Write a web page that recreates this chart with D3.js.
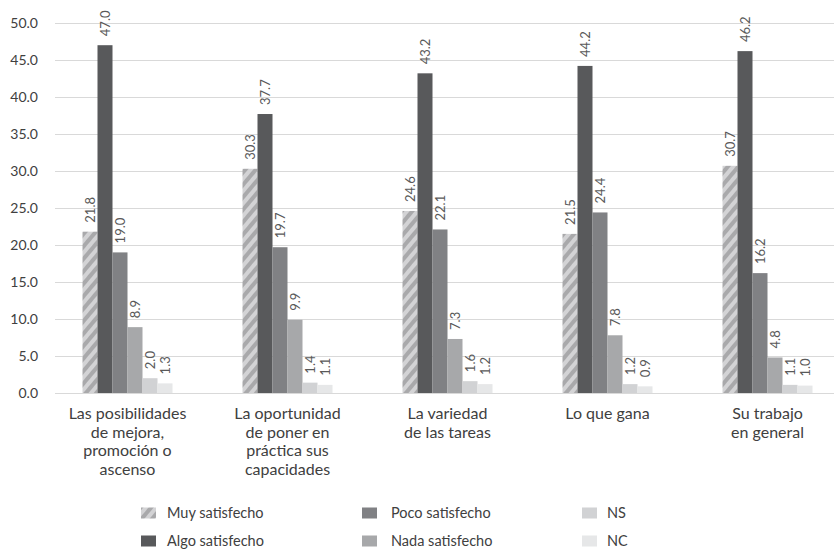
<!DOCTYPE html>
<html><head><meta charset="utf-8">
<script src="https://cdn.jsdelivr.net/npm/d3@7"></script>
<style>html,body{margin:0;padding:0;background:#fff;}svg{display:block;font-family:Lato,"Noto Sans",sans-serif;}</style>
</head><body><svg id="c" width="834" height="550"></svg>
<script>
const categories = [
  ["Las posibilidades","de mejora,","promoción o","ascenso"],
  ["La oportunidad","de poner en","práctica sus","capacidades"],
  ["La variedad","de las tareas"],
  ["Lo que gana"],
  ["Su trabajo","en general"]
];
const seriesNames = ["Muy satisfecho","Algo satisfecho","Poco satisfecho","Nada satisfecho","NS","NC"];
const muy  = [21.8, 30.3, 24.6, 21.5, 30.7];
const algo = [47.0, 37.7, 43.2, 44.2, 46.2];
const poco = [19.0, 19.7, 22.1, 24.4, 16.2];
const nada = [8.9, 9.9, 7.3, 7.8, 4.8];
const ns   = [2.0, 1.4, 1.6, 1.2, 1.1];
const nc   = [1.3, 1.1, 1.2, 0.9, 1.0];
const yTicks = [0,5,10,15,20,25,30,35,40,45,50];

const seriesVals = [muy, algo, poco, nada, ns, nc];
const colors = ["url(#hatch)","#58595b","#808184","#a7a8aa","#d1d2d4","#e6e7e8"];

const svg = d3.select("#c");
const defs = svg.append("defs");
const pat = defs.append("pattern").attr("id","hatch").attr("patternUnits","userSpaceOnUse")
  .attr("width",8).attr("height",8).attr("patternTransform","rotate(40)");
pat.append("rect").attr("width",8).attr("height",8).attr("fill","#d3d3d5");
pat.append("rect").attr("width",4).attr("height",8).attr("fill","#a9a9ab");

const y = d3.scaleLinear().domain([0,50]).range([393,23]);
const x0 = d3.scaleBand().domain(d3.range(categories.length)).range([47.5,847.5]).paddingInner(0).paddingOuter(0);
const x1 = d3.scaleBand().domain(d3.range(seriesNames.length)).range([35,125]);

// gridlines
svg.append("g").selectAll("line").data(yTicks).join("line")
  .attr("x1",55).attr("x2",834).attr("y1",d=>y(d)+0.5).attr("y2",d=>y(d)+0.5)
  .attr("stroke","#d9d9d9").attr("stroke-width",1);

// y labels
svg.append("g").selectAll("text").data(yTicks).join("text")
  .attr("x",38).attr("y",d=>y(d)).attr("dy","0.36em").attr("text-anchor","end")
  .attr("font-size",14).attr("fill","#404040").text(d=>d.toFixed(1));

// bars
const groups = svg.append("g").selectAll("g").data(categories).join("g")
  .attr("transform",(d,i)=>`translate(${x0(i)},0)`);
groups.each(function(c,i){
  const g = d3.select(this);
  seriesVals.forEach((vals,s)=>{
    const v = vals[i];
    g.append("rect").attr("x",x1(s)).attr("width",x1.bandwidth())
      .attr("y",y(v)).attr("height",y(0)-y(v)).attr("fill",colors[s]);
    const cx = x1(s)+x1.bandwidth()/2;
    g.append("text").attr("transform",`translate(${cx},${y(v)-9}) rotate(-90)`)
      .attr("dy","0.36em").attr("text-anchor","start").attr("font-size",13)
      .attr("fill","#595959").text(v.toFixed(1));
  });
  const t = g.append("text").attr("text-anchor","middle").attr("font-size",16).attr("fill","#404040");
  c.forEach((line,k)=>{
    t.append("tspan").attr("x",80).attr("y",419+k*18.5).text(line);
  });
});

// legend
const legCols = [[141,167],[362,391],[582,607]];
const legRows = [513,541];
seriesNames.forEach((name,s)=>{
  const col = Math.floor(s/2), row = s%2;
  const [sx,tx] = legCols[col];
  const ry = legRows[row];
  svg.append("rect").attr("x",sx).attr("y",ry-5.5).attr("width",15).attr("height",11).attr("fill",colors[s]);
  svg.append("text").attr("x",tx).attr("y",ry).attr("dy","0.36em").attr("font-size",14.5)
    .attr("fill","#404040").text(name);
});
</script></body></html>
